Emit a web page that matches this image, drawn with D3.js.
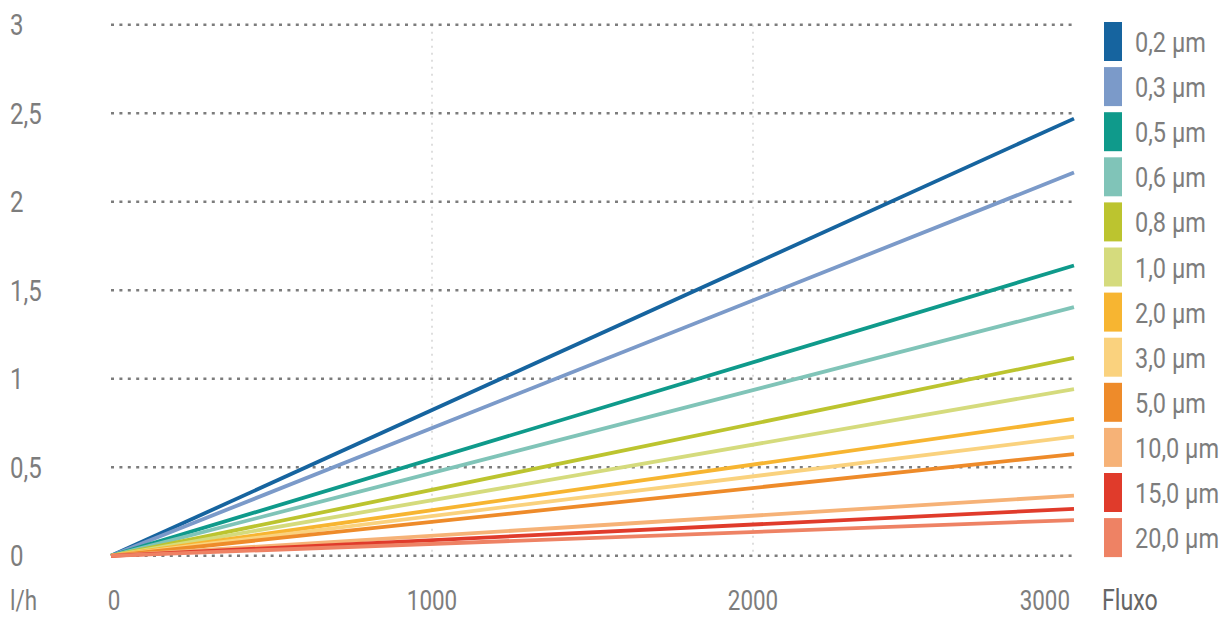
<!DOCTYPE html>
<html lang="pt">
<head>
<meta charset="UTF-8">
<title>Fluxo</title>
<script src="https://cdn.jsdelivr.net/npm/d3@7"></script>
<style>
  body { margin: 0; background: #fff; }
  text { font-family: Roboto, "Noto Sans", sans-serif; fill: #7d7d7d; }
</style>
</head>
<body>
<svg id="chart"></svg>
<script>
// dados
var series = ["0,2 µm", "0,3 µm", "0,5 µm", "0,6 µm", "0,8 µm", "1,0 µm",
              "2,0 µm", "3,0 µm", "5,0 µm", "10,0 µm", "15,0 µm", "20,0 µm"];
var colors = ["#16649f", "#7b9ac9", "#0f9a8b", "#80c4b8", "#bcc42f", "#d5db7d",
              "#f7b531", "#fad27e", "#ee8b2a", "#f6b277", "#e03b2b", "#ee8264"];
var flow = [0, 3000];
var startValues = [0, 0, 0, 0, 0, 0, 0, 0, 0, 0, 0, 0];
var endValues = [2.47, 2.165, 1.64, 1.405, 1.118, 0.942, 0.773, 0.673, 0.575, 0.34, 0.265, 0.202];
var yTicks = [0, 0.5, 1, 1.5, 2, 2.5, 3];
var xTicks = [0, 1000, 2000, 3000];

var width = 1227, height = 617;
var svg = d3.select("#chart").attr("width", width).attr("height", height);

var x = d3.scaleLinear().domain([0, 3000]).range([111, 1074]);
var y = d3.scaleLinear().domain([0, 3]).range([555.8, 24.8]);

var fmt = function (d) { return String(d).replace(".", ","); };
var sx = 0.8; // fonte condensada
var baseY = 610;

// grade vertical clara
svg.selectAll(".vgrid").data([1000, 2000]).enter().append("line")
    .attr("x1", d => x(d)).attr("x2", d => x(d))
    .attr("y1", y(3)).attr("y2", y(0))
    .attr("stroke", "#d4d4d4").attr("stroke-width", 1.5)
    .attr("stroke-dasharray", "2,5");

// grade horizontal pontilhada
svg.selectAll(".hgrid").data(yTicks).enter().append("line")
    .attr("x1", x(0)).attr("x2", x(3000) + 2)
    .attr("y1", d => y(d)).attr("y2", d => y(d))
    .attr("stroke", "#7c7c7c").attr("stroke-width", 2.5)
    .attr("stroke-dasharray", "3,5.4");

// rótulos eixo y
svg.selectAll(".ylab").data(yTicks).enter().append("text")
    .attr("transform", d => "translate(10," + (y(d) + 10.5) + ") scale(" + sx + ",1)")
    .style("font-size", "30px")
    .text(fmt);

// rótulos eixo x
svg.selectAll(".xlab").data(xTicks).enter().append("text")
    .attr("transform", (d, i) => {
        var px = i === xTicks.length - 1 ? x(d) - 4 : x(d) + (i === 0 ? 3 : 0);
        return "translate(" + px + "," + baseY + ") scale(" + sx + ",1)";
    })
    .attr("text-anchor", (d, i) => i === xTicks.length - 1 ? "end" : "middle")
    .style("font-size", "28px")
    .text(d => d);

svg.append("text").attr("transform", "translate(10," + baseY + ") scale(" + sx + ",1)")
    .style("font-size", "28px").text("l/h");
svg.append("text").attr("transform", "translate(1102," + baseY + ") scale(" + sx + ",1)")
    .style("font-size", "29px").style("fill", "#666").text("Fluxo");

// linhas
var line = d3.line().x(d => x(d[0])).y(d => y(d[1]));
series.forEach(function (s, i) {
    var pts = flow.map((f, k) => [f, k === 0 ? startValues[i] : endValues[i]]);
    svg.append("path").datum(pts)
        .attr("d", line)
        .attr("fill", "none")
        .attr("stroke", colors[i])
        .attr("stroke-width", 3.8);
});

// legenda
var leg = svg.selectAll(".leg").data(series).enter().append("g")
    .attr("transform", (d, i) => "translate(1104," + (22 + i * 45.1) + ")");
leg.append("rect").attr("width", 18).attr("height", 39)
    .attr("fill", (d, i) => colors[i]);
leg.append("text").attr("transform", "translate(31,30) scale(0.84,1)")
    .style("font-size", "28px")
    .text(d => d);
</script>
</body>
</html>
